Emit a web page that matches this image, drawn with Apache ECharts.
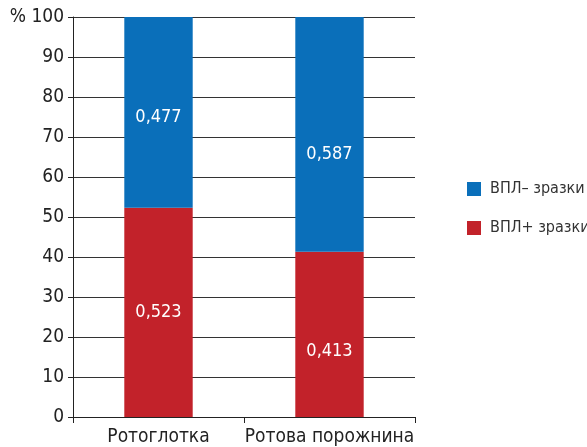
<!DOCTYPE html>
<html>
<head>
<meta charset="utf-8">
<script src="https://cdn.jsdelivr.net/npm/echarts@6/dist/echarts.min.js"></script>
<style>
  html, body { margin: 0; padding: 0; background: #fff; }
  #chart { width: 587px; height: 447px; }
</style>
</head>
<body>
<div id="chart"></div>
<script>
// Share of HPV-positive and HPV-negative samples by site
const categories = ['Ротоглотка', 'Ротова порожнина'];
const hpvPositive = [52.3, 41.3];   // ВПЛ+ зразки, %
const hpvNegative = [47.7, 58.7];   // ВПЛ– зразки, %
const yTicks = [0, 10, 20, 30, 40, 50, 60, 70, 80, 90, 100];

const FONT = "'Liberation Sans Narrow', 'DejaVu Sans Condensed', 'Liberation Sans', sans-serif";
const BLUE = '#0A6FBA';
const RED = '#C2222A';

const fmt = v => (v / 100).toFixed(3).replace('.', ',');

// per-bar vertical nudges for the value labels
const negOffsets = [5, 20];
const posOffsets = [0, 17];

const chart = echarts.init(document.getElementById('chart'));
chart.setOption({
  animation: false,
  grid: { left: 73, right: 172, top: 17, bottom: 30 },
  legend: {
    orient: 'vertical',
    left: 467,
    top: 181,
    padding: 0,
    itemWidth: 14,
    itemHeight: 14,
    itemGap: 23,
    icon: 'rect',
    textStyle: { fontFamily: FONT, fontSize: 16, color: '#333', padding: [0, 0, 0, 4] },
    data: ['ВПЛ– зразки', 'ВПЛ+ зразки']
  },
  xAxis: {
    type: 'category',
    data: categories,
    axisLine: { lineStyle: { color: '#222', width: 1 } },
    axisTick: { show: true, alignWithLabel: false, length: 6, lineStyle: { color: '#222' } },
    axisLabel: { interval: 0, fontFamily: FONT, fontSize: 19, color: '#222', margin: 11 }
  },
  yAxis: {
    type: 'value',
    min: yTicks[0],
    max: yTicks[yTicks.length - 1],
    interval: 10,
    axisLine: { show: true, lineStyle: { color: '#222', width: 1 } },
    axisTick: { show: true, length: 5, lineStyle: { color: '#222' } },
    axisLabel: {
      fontFamily: FONT, fontSize: 19, color: '#222', margin: 9,
      formatter: v => (v === 100 ? '% 100' : String(v))
    },
    splitLine: { show: true, lineStyle: { color: '#333', width: 1 } }
  },
  series: [
    {
      name: 'ВПЛ+ зразки',
      type: 'bar',
      stack: 'total',
      barWidth: '40%',
      itemStyle: { color: RED },
      data: hpvPositive.map((v, i) => ({
        value: v,
        label: { offset: [0, posOffsets[i]] }
      })),
      label: {
        show: true, position: 'inside', color: '#fff',
        fontFamily: FONT, fontSize: 18,
        formatter: p => fmt(p.value)
      }
    },
    {
      name: 'ВПЛ– зразки',
      type: 'bar',
      stack: 'total',
      barWidth: '40%',
      itemStyle: { color: BLUE },
      data: hpvNegative.map((v, i) => ({
        value: v,
        label: { offset: [0, negOffsets[i]] }
      })),
      label: {
        show: true, position: 'inside', color: '#fff',
        fontFamily: FONT, fontSize: 18,
        formatter: p => fmt(p.value)
      }
    }
  ]
});
</script>
</body>
</html>
